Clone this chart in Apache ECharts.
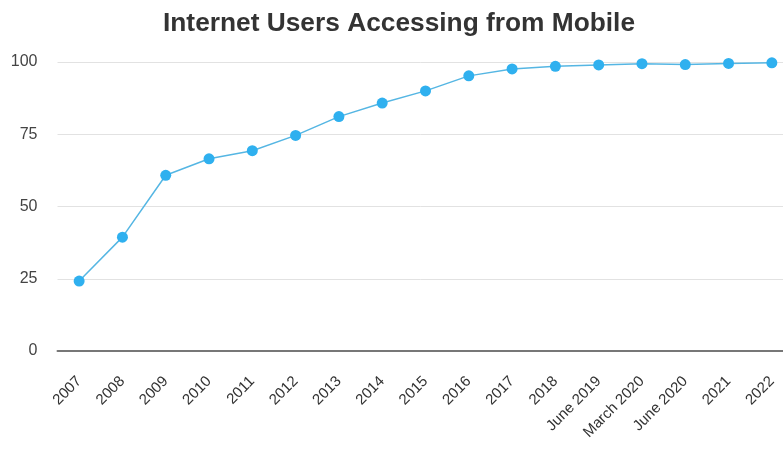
<!DOCTYPE html>
<html>
<head>
<meta charset="utf-8">
<script src="https://cdn.jsdelivr.net/npm/echarts@6/dist/echarts.min.js"></script>
<style>
  html, body { margin: 0; padding: 0; background: #fff; }
  #chart { width: 783px; height: 450px; }
</style>
</head>
<body>
<div id="chart"></div>
<script>
const categories = ['2007', '2008', '2009', '2010', '2011', '2012', '2013', '2014', '2015',
  '2016', '2017', '2018', 'June 2019', 'March 2020', 'June 2020', '2021', '2022']
const mobileShare = [24.2, 39.4, 60.8, 66.5, 69.3, 74.6, 81.1, 85.8, 90, 95.2, 97.6,
  98.5, 99, 99.4, 99.1, 99.5, 99.7]
const yTicks = { min: 0, max: 100, interval: 25 }

const chart = echarts.init(document.getElementById('chart'))
chart.setOption({
  animation: false,
  title: {
    text: 'Internet Users Accessing from Mobile',
    left: 158,
    top: 6,
    textStyle: {
      fontFamily: 'Liberation Sans',
      fontSize: 26.3,
      fontWeight: 'bold',
      color: '#333'
    }
  },
  grid: {
    left: 57.5,
    width: 736,
    top: 62,
    bottom: 99,
    outerBoundsMode: 'none'
  },
  xAxis: {
    type: 'category',
    boundaryGap: true,
    data: categories,
    axisLine: { lineStyle: { color: '#777', width: 2 } },
    axisTick: { show: false },
    axisLabel: {
      rotate: 45,
      interval: 0,
      margin: 28,
      fontFamily: 'Liberation Sans',
      fontSize: 15,
      color: '#333'
    }
  },
  yAxis: {
    type: 'value',
    min: yTicks.min,
    max: yTicks.max,
    interval: yTicks.interval,
    axisLine: { show: false },
    axisTick: { show: false },
    splitLine: { lineStyle: { color: '#e2e2e2', width: 1 } },
    axisLabel: {
      margin: 20,
      fontFamily: 'Liberation Sans',
      fontSize: 16,
      color: '#444'
    }
  },
  series: [{
    type: 'line',
    data: mobileShare,
    symbol: 'circle',
    symbolSize: 11,
    itemStyle: { color: '#2fb0ef' },
    lineStyle: { color: '#55b6e3', width: 1.5 }
  }]
})
</script>
</body>
</html>
